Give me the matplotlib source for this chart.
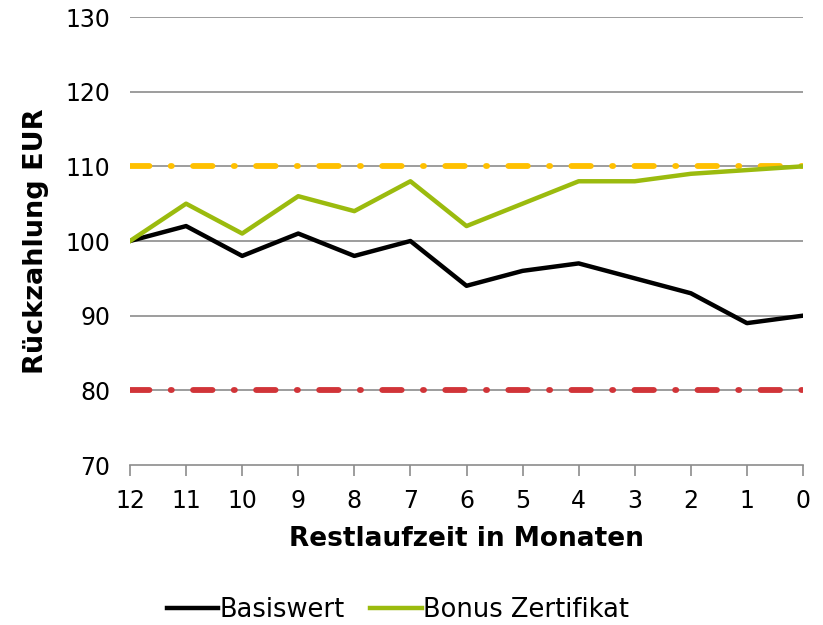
import matplotlib
matplotlib.use('Agg')
import matplotlib.pyplot as plt

months = [12, 11, 10, 9, 8, 7, 6, 5, 4, 3, 2, 1, 0]
basiswert = [100, 102, 98, 101, 98, 100, 94, 96, 97, 95, 93, 89, 90]
bonus = [100, 105, 101, 106, 104, 108, 102, 105, 108, 108, 109, 109.5, 110]
cap_level = 110      # yellow reference line
barrier_level = 80   # red reference line
yticks = [70, 80, 90, 100, 110, 120, 130]

plt.rcParams['font.family'] = ['DejaVu Sans']
plt.rcParams['lines.scale_dashes'] = False

fig = plt.figure(figsize=(8.23, 6.25), dpi=100)
ax = fig.add_axes([130 / 823, 1 - 465 / 625, 673 / 823, 448 / 625])

grid_c = '#8c8c8c'
for y in yticks[1:]:
    ax.axhline(y, color=grid_c, lw=1.2, zorder=1)

# dash-dot reference lines (lengths in points, round caps)
dash = (0, (14.0, 15.3, 0.8, 15.3))
ax.plot([months[0], months[-1]], [cap_level, cap_level], color='#ffc000', lw=4.2,
        linestyle=dash, dash_capstyle='round', zorder=2)
ax.plot([months[0], months[-1]], [barrier_level, barrier_level], color='#d13438', lw=4.2,
        linestyle=dash, dash_capstyle='round', zorder=2)

ax.plot(months, basiswert, color='black', lw=3.2, label='Basiswert', zorder=3)
ax.plot(months, bonus, color='#9bbb0e', lw=3.2, label='Bonus Zertifikat', zorder=3)

ax.set_xlim(12, 0)
ax.set_ylim(70, 130)
ax.set_xticks(months)
ax.set_yticks(yticks)
ax.tick_params(axis='x', direction='out', length=8, width=1.2, color=grid_c,
               labelsize=17, pad=9)
ax.tick_params(axis='y', length=0, labelsize=17, pad=14)
for s in ['left', 'right', 'top']:
    ax.spines[s].set_visible(False)
ax.spines['bottom'].set_color(grid_c)
ax.spines['bottom'].set_linewidth(1.2)

ax.set_xlabel('Restlaufzeit in Monaten', fontsize=19, fontweight='bold', labelpad=10)
ax.set_ylabel('Rückzahlung EUR', fontsize=19.5, fontweight='bold', labelpad=12)

fig.legend(loc='center', bbox_to_anchor=(398 / 823, 1 - 610 / 625), ncol=2, frameon=False,
           fontsize=18.5, handlelength=2.0, handletextpad=0.05, columnspacing=1.0)

fig.savefig('out.png', dpi=100)
